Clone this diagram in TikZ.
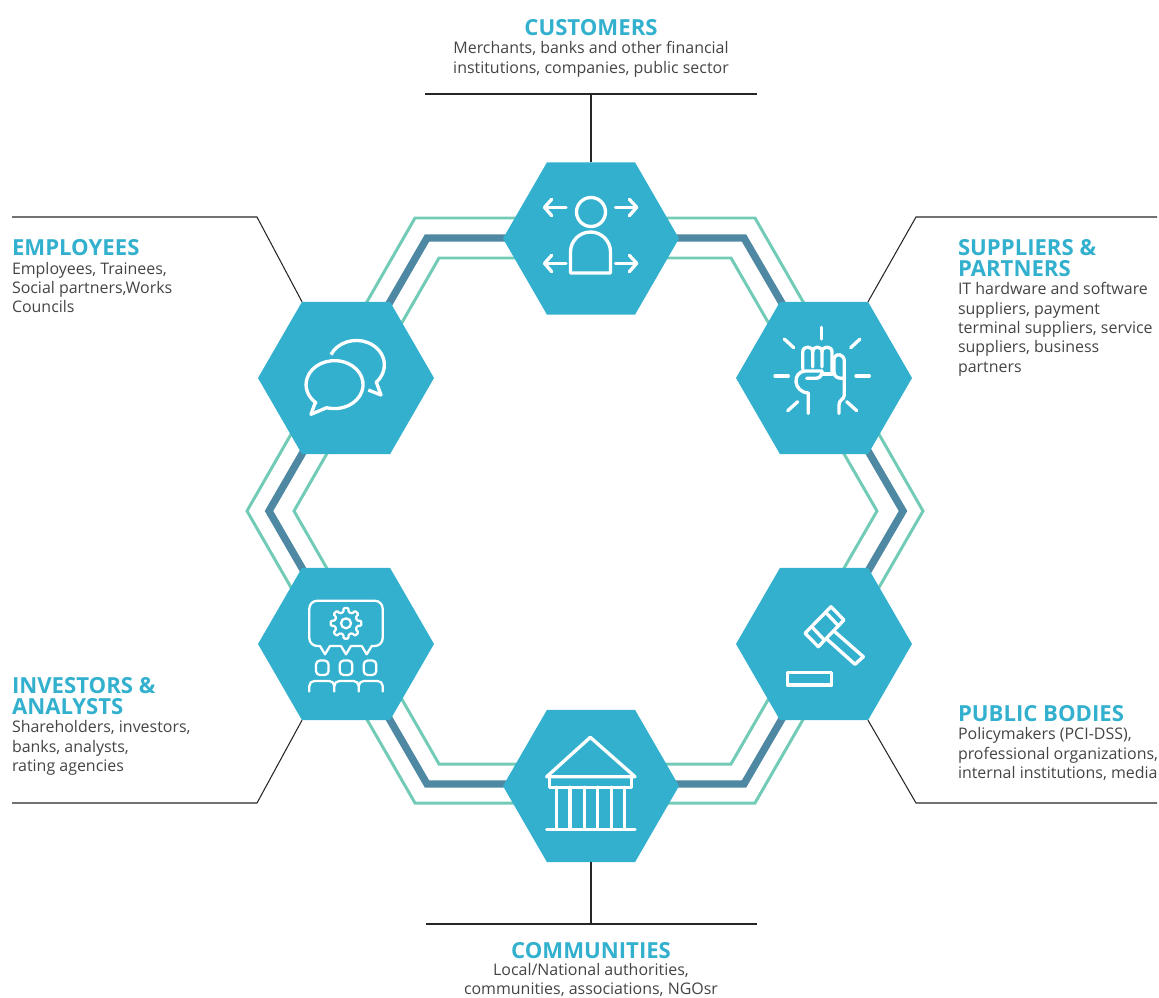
\documentclass[tikz,border=0pt]{standalone}
\usepackage{fontspec}
\setmainfont{Open Sans}
\usetikzlibrary{shapes.geometric}
\definecolor{hexblue}{HTML}{32B0CE}
\definecolor{ringdark}{HTML}{4E88A3}
\definecolor{ringgreen}{HTML}{72CBB6}
\definecolor{bodygray}{HTML}{444444}
\def\u{0.02cm}
\tikzset{
  hexa/.style={regular polygon,regular polygon sides=6,minimum size=176*\u,inner sep=0pt,outer sep=0pt,fill=hexblue},
  leader/.style={draw=black!85,line width=0.6pt},
  iconline/.style={draw=white,line width=1.9pt,line cap=round,line join=round},
  thinicon/.style={draw=white,line width=1.3pt,line cap=round,line join=round},
  headtext/.style={text=hexblue,font=\fontsize{12.6}{11.95}\selectfont\bfseries,inner sep=0pt,outer sep=0pt},
  bodytext/.style={text=bodygray,font=\fontsize{9.08}{11.05}\selectfont,inner sep=0pt,outer sep=0pt}
}
\begin{document}
\begin{tikzpicture}[x=0.02cm,y=-0.02cm]
  \useasboundingbox (0,0) rectangle (1159,997);

  % rings
  \draw[ringgreen,line width=1.7pt,line join=miter] (415,218) -- (755,218) -- (923,511) -- (755,803) -- (415,803) -- (247,511) -- cycle;
  \draw[ringdark,line width=4.2pt,line join=miter] (427,238) -- (744,238) -- (903,511) -- (744,784) -- (427,784) -- (269,511) -- cycle;
  \draw[ringgreen,line width=1.7pt,line join=miter] (439,258) -- (731,258) -- (877,511) -- (731,764) -- (439,764) -- (294,511) -- cycle;

  % hexagons
  \node[hexa] (customers) at (591,238.5) {};
  \node[hexa] (employees) at (346,378) {};
  \node[hexa] (suppliers) at (824,378) {};
  \node[hexa] (investors) at (346,644) {};
  \node[hexa] (bodies) at (824,644) {};
  \node[hexa] (communities) at (591,786) {};

  % leader lines
  \coordinate (custleft) at (425,94);
  \coordinate (custright) at (757,94);
  \coordinate (custmid) at (591,94);
  \draw[leader] (custleft) -- (custright);
  \draw[leader] (custmid) -- (customers.north);
  \coordinate (emplend) at (12,217);
  \coordinate (emplbend) at (257,217);
  \draw[leader] (emplend) -- (emplbend) -- (employees.corner 2);
  \coordinate (suppend) at (1157,217);
  \coordinate (suppbend) at (916,217);
  \draw[leader] (suppend) -- (suppbend) -- (suppliers.corner 1);
  \coordinate (investend) at (12,803);
  \coordinate (investbend) at (257,803);
  \draw[leader] (investend) -- (investbend) -- (investors.corner 4);
  \coordinate (bodyend) at (1157,803);
  \coordinate (bodybend) at (916,803);
  \draw[leader] (bodyend) -- (bodybend) -- (bodies.corner 5);
  \coordinate (commleft) at (426,924);
  \coordinate (commright) at (757,924);
  \coordinate (commmid) at (591,924);
  \draw[leader] (commleft) -- (commright);
  \draw[leader] (commmid) -- (communities.south);

  % person with arrows
  \draw[iconline] (591,212) circle[radius=14.5*\u];
  \draw[iconline] (570.5,273) -- (570.5,252) arc[start angle=180,end angle=0,radius=20*\u] -- (610.5,273) -- cycle;
  \draw[iconline] (566,207.3) -- (544.5,207.3);
  \draw[iconline] (551.7,199.3) -- (544.5,207.3) -- (551.7,215.7);
  \draw[iconline] (615.5,207.3) -- (636.7,207.3);
  \draw[iconline] (629.3,199.3) -- (636.7,207.3) -- (629.3,215.7);
  \draw[iconline] (566,263.3) -- (544.5,263.3);
  \draw[iconline] (551.7,255.3) -- (544.5,263.3) -- (551.7,271.7);
  \draw[iconline] (615.5,263.3) -- (636.7,263.3);
  \draw[iconline] (629.3,255.3) -- (636.7,263.3) -- (629.3,271.7);

  % speech bubbles
  \draw[iconline,line cap=butt] (315,403.3) -- (311,414.3) -- (326.7,407.7) arc[start angle=-106,end angle=229,x radius=28.5*\u,y radius=24*\u] -- cycle;
  \draw[iconline,line cap=butt] (331,354.6) arc[start angle=155,end angle=-45,x radius=28*\u,y radius=24.5*\u] -- (377,384) -- (381,395) -- (368.3,390);

  % fist with rays
  \draw[iconline] (821.7,327.3) -- (821.7,339);
  \draw[iconline] (860,339) -- (850.7,347.7);
  \draw[iconline] (784.3,339) -- (793.7,347.7);
  \draw[iconline] (775,376) -- (788.3,376);
  \draw[iconline] (856,376) -- (869.3,376);
  \draw[iconline] (797.7,401.7) -- (787.7,410.7);
  \draw[iconline] (846.7,401.7) -- (856.7,410.7);
  \draw[iconline] (802.7,369) -- (802.7,352) .. controls (802.7,345.5) and (812.7,345.5) .. (812.7,352) -- (812.7,367);
  \draw[iconline] (812.7,352) .. controls (812.7,345.5) and (822,345.5) .. (822,352) -- (822,367);
  \draw[iconline] (822,352) .. controls (822,345.5) and (832,345.5) .. (832,352) -- (832,374);
  \draw[iconline] (834,358) .. controls (836,352.5) and (844.3,354) .. (844.3,361) -- (844.3,395) .. controls (844.3,400) and (839,399) .. (839,405) -- (839,413.5);
  \draw[iconline] (834,358) -- (834,372) .. controls (834,378) and (840,379) .. (844.3,378);
  \draw[iconline] (822,371) -- (805,371) .. controls (792,372) and (793,392) .. (808.3,393) -- (808.3,413.5);
  \draw[iconline] (806.7,378.3) -- (816,378.3) .. controls (820,378.3) and (822,375) .. (822,371);
  \draw[iconline] (822,374) -- (832,374);

  % speech bubble with gear and people
  \draw[thinicon] (317.7,600.7) -- (374.7,600.7) arc[start angle=90,end angle=0,radius=8*\u] -- (382.7,638) arc[start angle=0,end angle=-90,radius=8*\u] -- (371.7,646) -- (366.7,654.3) -- (361.7,646) -- (351,646) -- (346,654.3) -- (341,646) -- (330,646) -- (325,654.3) -- (320,646) -- (317.3,646) arc[start angle=270,end angle=180,radius=8*\u] -- (309.3,608.7) arc[start angle=180,end angle=90,radius=8*\u] -- cycle;
  \begin{scope}[shift={(346,623.3)}]
    \draw[thinicon] (0,0) circle[radius=5*\u];
    \draw[thinicon,rounded corners=0.6pt] (-13:11.5*\u) -- (-9:15.5*\u) -- (9:15.5*\u) -- (13:11.5*\u)
      -- (32:11.5*\u) -- (36:15.5*\u) -- (54:15.5*\u) -- (58:11.5*\u)
      -- (77:11.5*\u) -- (81:15.5*\u) -- (99:15.5*\u) -- (103:11.5*\u)
      -- (122:11.5*\u) -- (126:15.5*\u) -- (144:15.5*\u) -- (148:11.5*\u)
      -- (167:11.5*\u) -- (171:15.5*\u) -- (189:15.5*\u) -- (193:11.5*\u)
      -- (212:11.5*\u) -- (216:15.5*\u) -- (234:15.5*\u) -- (238:11.5*\u)
      -- (257:11.5*\u) -- (261:15.5*\u) -- (279:15.5*\u) -- (283:11.5*\u)
      -- (302:11.5*\u) -- (306:15.5*\u) -- (324:15.5*\u) -- (328:11.5*\u) -- cycle;
  \end{scope}
  \draw[thinicon,rounded corners=4*\u] (316,660.5) rectangle (328.6,675);
  \draw[thinicon,rounded corners=4*\u] (339.7,660.5) rectangle (352.3,675);
  \draw[thinicon,rounded corners=4*\u] (363.7,660.5) rectangle (376.3,675);
  \draw[thinicon] (309.3,691.5) -- (309.3,686) arc[start angle=180,end angle=90,radius=5*\u] -- (329.3,681) arc[start angle=90,end angle=0,radius=5*\u] -- (334.3,691.5);
  \draw[thinicon] (334.3,686) arc[start angle=180,end angle=90,radius=5*\u] -- (353.7,681) arc[start angle=90,end angle=0,radius=5*\u] -- (358.7,691.5);
  \draw[thinicon] (358.7,686) arc[start angle=180,end angle=90,radius=5*\u] -- (377.7,681) arc[start angle=90,end angle=0,radius=5*\u] -- (382.7,691.5);

  % gavel
  \draw[iconline] (831,606.7) -- (844,620) -- (818.3,646.7) -- (805,633.3) -- cycle;
  \draw[iconline] (825.7,612.3) -- (838.3,625.7);
  \draw[iconline] (811.7,626.7) -- (824.3,640);
  \draw[iconline] (826,638.3) -- (855,664.3) -- (863.3,656.7) -- (834,631);
  \draw[iconline] (787.3,672.3) rectangle (831.7,685);

  % bank
  \draw[iconline] (546.7,776.7) -- (590.3,737.3) -- (635,776.7) -- cycle;
  \draw[iconline] (549.3,776.7) -- (549.3,787.3) -- (631.7,787.3) -- (631.7,776.7);
  \draw[iconline] (556.7,787.3) -- (556.7,829);
  \draw[iconline] (570,787.3) -- (570,829);
  \draw[iconline] (584.3,787.3) -- (584.3,829);
  \draw[iconline] (597.3,787.3) -- (597.3,829);
  \draw[iconline] (611.7,787.3) -- (611.7,829);
  \draw[iconline] (624.3,787.3) -- (624.3,829);
  \draw[iconline] (546.7,829.3) -- (635,829.3);

  % labels
  \node[headtext,anchor=base] (custhead) at (591,35.5) {CUSTOMERS};
  \node[bodytext,anchor=north,align=center] (custtext) at (591,41.5) {Merchants, banks and other financial\\institutions, companies, public sector};
  \node[headtext,anchor=base west] (emplhead) at (12,255.5) {EMPLOYEES};
  \node[bodytext,anchor=north west,align=left] (empltext) at (12,262) {Employees, Trainees,\\Social partners,Works\\Councils};
  \node[headtext,anchor=north west,align=left] (supphead) at (958,239) {SUPPLIERS \&\\PARTNERS};
  \node[bodytext,anchor=north west,align=left] (supptext) at (958,282.5) {IT hardware and software\\suppliers, payment\\terminal suppliers, service\\suppliers, business\\partners};
  \node[headtext,anchor=north west,align=left] (investhead) at (12,677) {INVESTORS \&\\ANALYSTS};
  \node[bodytext,anchor=north west,align=left] (investtext) at (12,720.5) {Shareholders, investors,\\banks, analysts,\\rating agencies};
  \node[headtext,anchor=base west] (bodyhead) at (958,721.5) {PUBLIC BODIES};
  \node[bodytext,anchor=north west,align=left] (bodytext) at (958,727.5) {Policymakers (PCI-DSS),\\professional organizations,\\internal institutions, media};
  \node[headtext,anchor=base] (commhead) at (591,958.5) {COMMUNITIES};
  \node[bodytext,anchor=north,align=center] (commtext) at (591,963) {Local/National authorities,\\communities, associations, NGOsr};
\end{tikzpicture}
\end{document}
